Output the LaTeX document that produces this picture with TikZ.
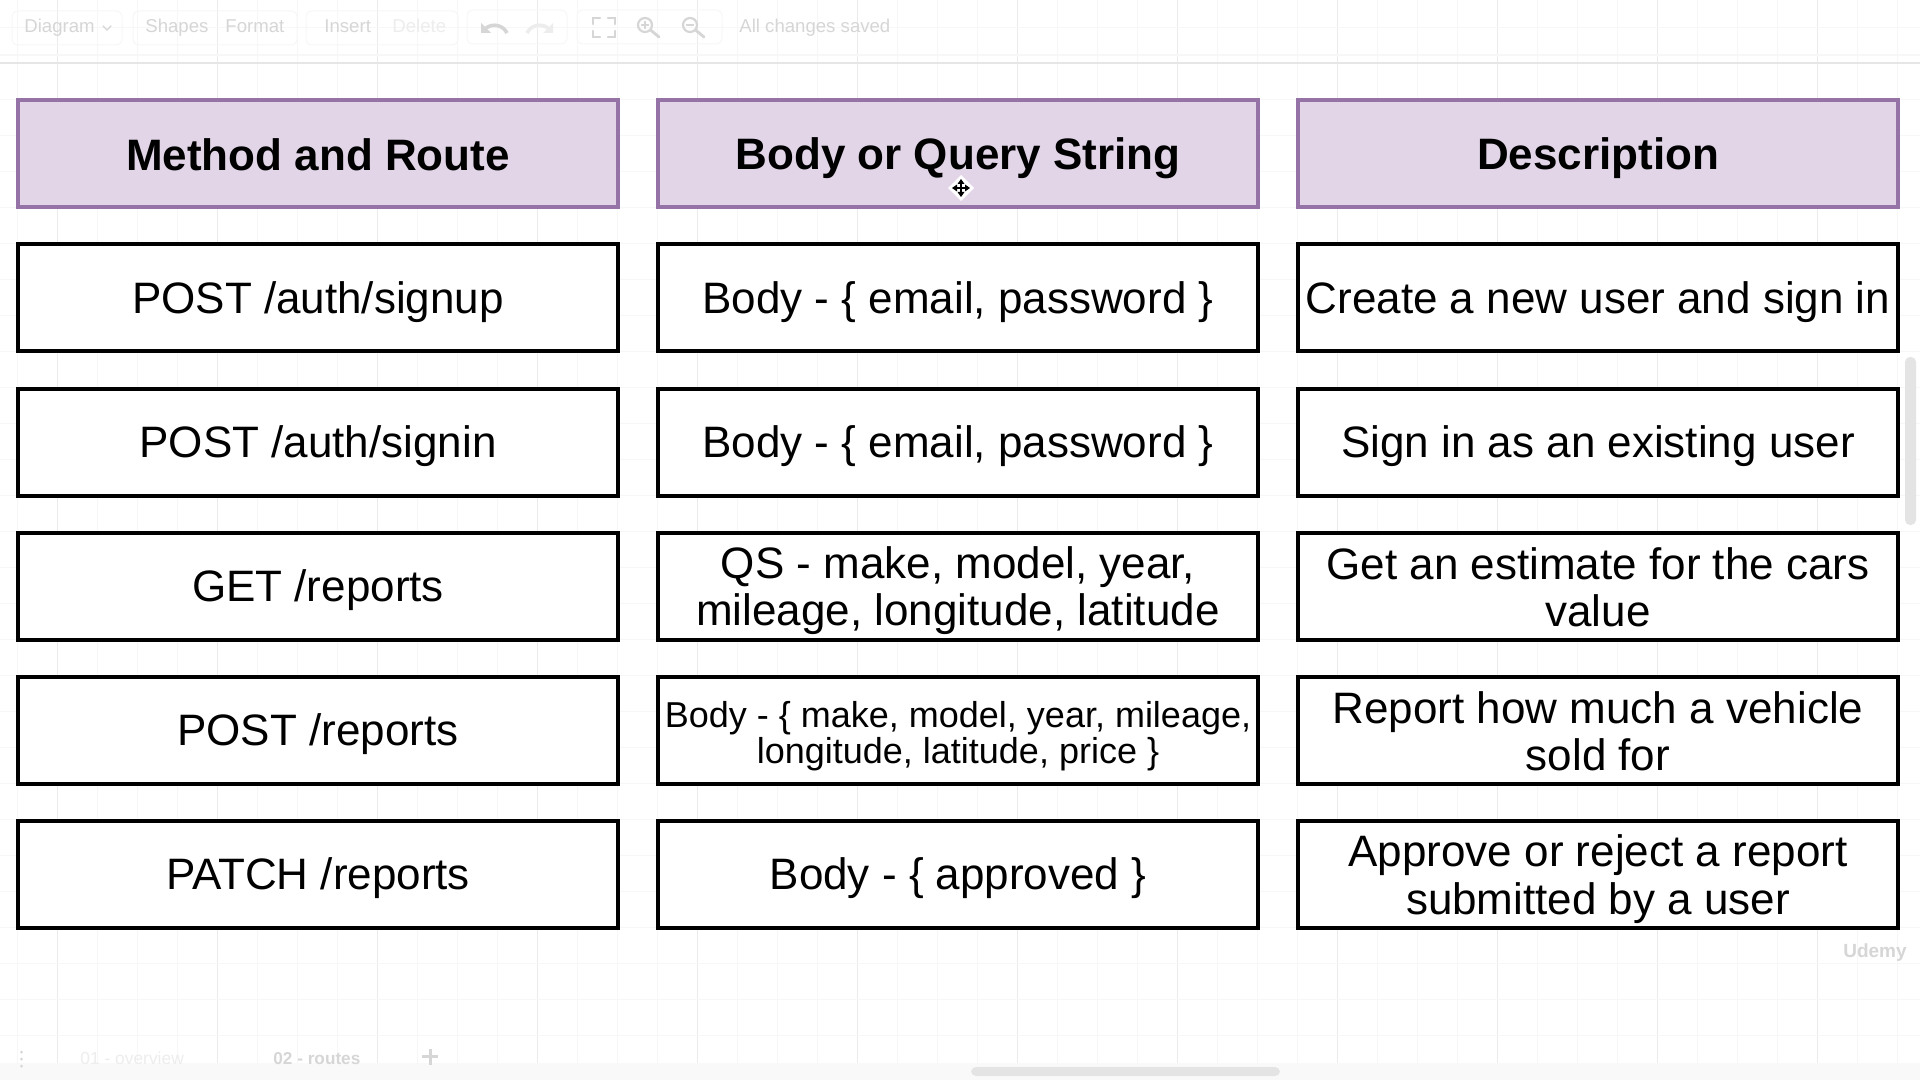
\documentclass[tikz,border=0pt]{standalone}
\usepackage{fontspec}
\setmainfont{Liberation Sans}
\newcommand{\capTop}{\rule{0pt}{18pt}}
\newcommand{\capBot}{\rule[-3pt]{0pt}{3pt}}
\newcommand{\oneLine}[1]{\rule{0pt}{20pt}\capBot #1}
\newcommand{\twoLines}[2]{\capTop #1\\\capBot #2}
\tikzset{
  px/.style={x=0.5pt,y=-0.5pt},
  cell/.style={draw=black,line width=2pt,fill=white,minimum width=300pt,minimum height=53.5pt,inner sep=0pt,align=center,font=\fontsize{22}{23.6}\selectfont},
  headcell/.style={cell,draw=headline,fill=headfill,font=\fontsize{22}{23.6}\selectfont\bfseries},
  celltext/.style={align=center,inner sep=0pt,font=\fontsize{22}{23.6}\selectfont},
  smalltext/.style={celltext,font=\fontsize{18}{18}\selectfont},
  gridminor/.style={draw=gridA,line width=0.4pt},
  gridmajor/.style={draw=gridB,line width=0.5pt},
  barlabel/.style={text=ghost,font=\fontsize{9.3}{10}\selectfont,inner sep=0pt,anchor=base west},
  fainter/.style={barlabel,text=ghostB},
  tablabel/.style={fainter,font=\fontsize{8.7}{10}\selectfont},
  tabactive/.style={barlabel,font=\fontsize{8.6}{10}\selectfont\bfseries},
  group/.style={draw=groupline,line width=0.5pt,rounded corners=3pt},
  icon/.style={draw=ghost,line width=1.1pt,line cap=round},
}
\definecolor{headline}{HTML}{9673A6}
\definecolor{headfill}{HTML}{E1D5E7}
\definecolor{gridA}{HTML}{F7F7F7}
\definecolor{gridB}{HTML}{EBEBEB}
\definecolor{ghost}{HTML}{D6D6D6}
\definecolor{ghostB}{HTML}{EDEDED}
\definecolor{groupline}{HTML}{F7F7F7}
\definecolor{barline}{HTML}{E6E6E6}
\definecolor{barfill}{HTML}{F9F9F9}
\definecolor{thumb}{HTML}{E4E4E4}
\begin{document}
\begin{tikzpicture}[px]
\useasboundingbox (0,0) rectangle (1920,1080);
\fill[white] (0,0) rectangle (1920,1080);
% grid
\foreach \x in {17,97,137,177,257,297,337,417,457,497,577,617,657,737,777,817,897,937,977,1057,1097,1137,1217,1257,1297,1377,1417,1457,1537,1577,1617,1697,1737,1777,1857,1897}
  \draw[gridminor] (\x,0) -- (\x,1063);
\foreach \x in {57,217,377,537,697,857,1017,1177,1337,1497,1657,1817}
  \draw[gridmajor] (\x,0) -- (\x,1063);
\foreach \y in {27,99,135,171,207,243,279,315,351,387,423,459,495,531,567,603,639,675,711,747,783,819,855,891,927,963,999,1035}
  \draw[gridminor] (0,\y) -- (1920,\y);
% top bar
\draw[draw=barline,line width=0.6pt] (0,63) -- (1920,63);
\draw[draw=groupline,line width=0.6pt] (0,55) -- (1920,55);
\draw[group] (12,11) rectangle (122,45);
\draw[group] (133,11) rectangle (297,45);
\draw[group] (306,11) rectangle (458,45);
\draw[group] (467,10) rectangle (567,44);
\draw[group] (577,10) rectangle (722,44);
\node[barlabel] (tbDiagram) at (24,32.5) {Diagram};
\draw[icon,line width=.7pt] (103,26) -- (107,30) -- (111,26);
\node[barlabel] (tbShapes) at (145,32.5) {Shapes};
\node[barlabel] (tbFormat) at (225,32.5) {Format};
\node[barlabel] (tbInsert) at (324,32.5) {Insert};
\node[fainter] (tbDelete) at (392,32.5) {Delete};
\node[barlabel] (tbSaved) at (739,33) {All changes saved};
% undo, redo
\draw[draw=ghost,line width=1.8pt] (486,28) .. controls (493,23) and (503,25) .. (507,33);
\fill[ghost] (481,23) -- (481,33) -- (491,33) -- cycle;
\draw[draw=ghostB,line width=1.8pt] (548,28) .. controls (541,23) and (531,25) .. (527,33);
\fill[ghostB] (553,23) -- (553,33) -- (543,33) -- cycle;
% fit
\draw[icon,line width=1.3pt] (593,24) -- (593,18) -- (600,18) (608,18) -- (615,18) -- (615,24) (615,31) -- (615,37) -- (608,37) (600,37) -- (593,37) -- (593,31);
% zoom in/out
\draw[icon] (645,25) circle[radius=7];
\draw[icon,line width=1.4pt] (650.5,30) -- (659,37);
\draw[icon,line width=.7pt] (641.5,25) -- (648.5,25) (645,21.5) -- (645,28.5);
\draw[icon] (690,25) circle[radius=7];
\draw[icon,line width=1.4pt] (695.5,30) -- (704,37);
\draw[icon,line width=.7pt] (686.5,25) -- (693.5,25);
% header cells
\node[headcell] (h1) at (318,154) {\oneLine{Method and Route}};
\node[headcell] (h2) at (958,154) {\oneLine{Body or Query String}};
\node[headcell] (h3) at (1598,154) {\oneLine{Description}};
% rows
\node[cell] (r1a) at (318,298) {\oneLine{POST /auth/signup}};
\node[cell] (r1b) at (958,298) {\oneLine{Body - \{ email, password \}}};
\node[cell] (r1c) at (1598,298) {\oneLine{Create a new user and sign in}};
\node[cell] (r2a) at (318,442) {\oneLine{POST /auth/signin}};
\node[cell] (r2b) at (958,442) {\oneLine{Body - \{ email, password \}}};
\node[cell] (r2c) at (1598,442) {\oneLine{Sign in as an existing user}};
\node[cell] (r3a) at (318,586) {\oneLine{GET /reports}};
\node[cell] (r3b) at (958,586) {};
\node[celltext] (r3bt) at ([yshift=-1.1pt]r3b.center) {\twoLines{QS - make, model, year,}{mileage, longitude, latitude}};
\node[cell] (r3c) at (1598,586) {};
\node[celltext] (r3ct) at ([yshift=-1.1pt]r3c.center) {\twoLines{Get an estimate for the cars}{value}};
\node[cell] (r4a) at (318,730) {\oneLine{POST /reports}};
\node[cell] (r4b) at (958,730) {};
\node[smalltext] (r4bt) at ([yshift=-.5pt]r4b.center) {\twoLines{Body - \{ make, model, year, mileage,}{longitude, latitude, price \}}};
\node[cell] (r4c) at (1598,730) {};
\node[celltext] (r4ct) at ([yshift=-1.1pt]r4c.center) {\twoLines{Report how much a vehicle}{sold for}};
\node[cell] (r5a) at (318,874) {\oneLine{PATCH /reports}};
\node[cell] (r5b) at (958,874) {\oneLine{Body - \{ approved \}}};
\node[cell] (r5c) at (1598,874) {};
\node[celltext] (r5ct) at ([yshift=-1.5pt]r5c.center) {\twoLines{Approve or reject a report}{submitted by a user}};
% cursor
\fill[white] (961,175) -- (974,188) -- (961,201) -- (948,188) -- cycle;
\draw[black,line width=1.3pt] (954,188) -- (968,188) (961,181) -- (961,195);
\fill[black] (961,179) -- (957.5,184) -- (964.5,184) -- cycle (961,197) -- (957.5,192) -- (964.5,192) -- cycle (952,188) -- (957,184.5) -- (957,191.5) -- cycle (970,188) -- (965,184.5) -- (965,191.5) -- cycle;
% watermark
\node[text=ghost,font=\fontsize{9.5}{10}\selectfont\bfseries,inner sep=0pt] (wm) at (1875,953) {Udemy};
% bottom bar
\fill[barfill] (0,1063) rectangle (1920,1080);
\node[tablabel] (tab1) at (80,1064) {01 - overview};
\node[tabactive] (tab2) at (273,1064) {02 - routes};
\draw[draw=ghost,line width=1.5pt] (430,1049) -- (430,1065) (422,1056) -- (438,1056);
\foreach \y in {1052,1059,1066} \fill[ghost] (21.5,\y) circle[radius=1.5];
% scrollbars
\fill[thumb,rounded corners=2.5pt] (971,1067) rectangle (1280,1076);
\fill[thumb,rounded corners=2.5pt] (1905,357) rectangle (1916,525);
\end{tikzpicture}
\end{document}
